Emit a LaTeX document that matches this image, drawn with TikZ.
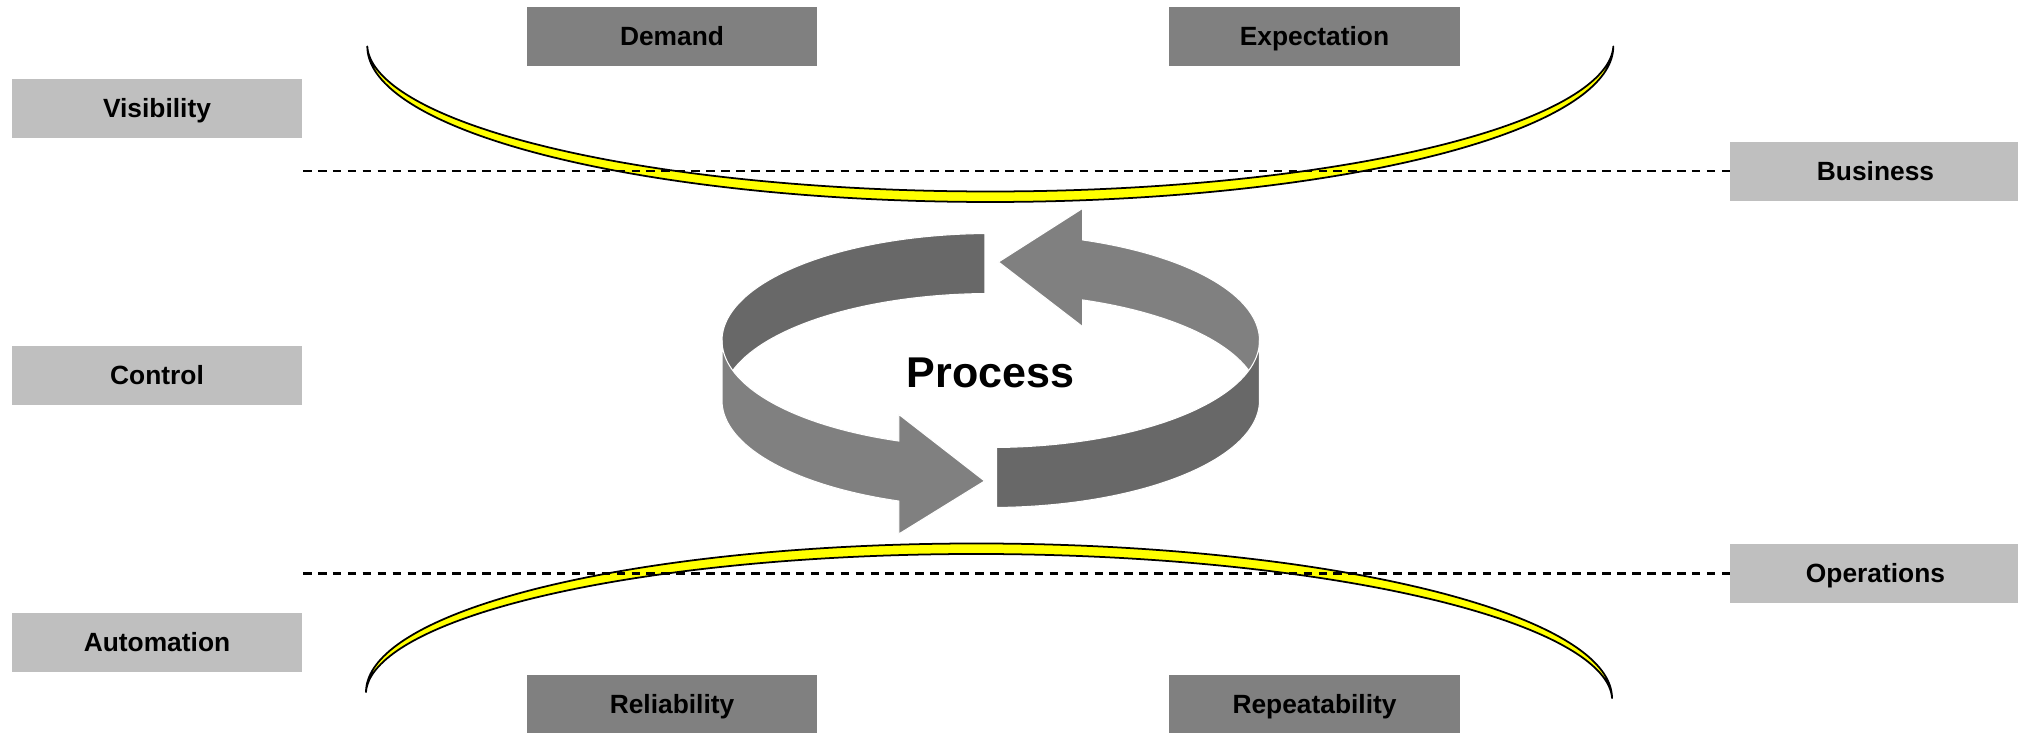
\documentclass[tikz,border=0pt]{standalone}
\usepackage{fontspec}
\setmainfont{Liberation Sans}
\definecolor{boxlight}{RGB}{191,191,191}
\definecolor{boxdark}{RGB}{128,128,128}
\definecolor{ringgray}{RGB}{104,104,104}
\definecolor{ringsilver}{RGB}{128,128,128}
\definecolor{bandyellow}{RGB}{255,255,0}
\begin{document}
\begin{tikzpicture}[x=0.02cm, y=-0.02cm, samples=160,
  labelbox/.style={rectangle, minimum width=5.82cm, minimum height=1.18cm,
    inner sep=0pt, font=\bfseries\fontsize{15}{18}\selectfont,
    text height=10.7pt, text depth=0pt},
  lightbox/.style={labelbox, fill=boxlight},
  darkbox/.style={labelbox, fill=boxdark},
  divider/.style={line width=1.25pt, dash pattern=on 4.9pt off 3.6pt},
  crescent/.style={fill=bandyellow, draw=black, line width=1pt, line join=round},
  ringdark/.style={fill=ringgray, draw=white, line width=0.6pt},
  ringlight/.style={fill=ringsilver, draw=white, line width=0.6pt},
]
\useasboundingbox (0,0) rectangle (2018,733);

% yellow crescents above and below the cycle; the band thins only near its tips
\path[crescent]
  plot[domain=180:0] ({990.3+623*cos(\x)},{46.5+155.5*sin(\x)})
  -- plot[domain=0:180] ({990.3+623*cos(\x)},{46.5+155.5*sin(\x)-10.5*sqrt(abs(sin(\x)))}) -- cycle;
\path[crescent]
  plot[domain=180:0] ({989+623*cos(\x)},{695+3*cos(\x)-151.5*sin(\x)})
  -- plot[domain=0:180] ({989+623*cos(\x)},{695+3*cos(\x)-151.5*sin(\x)+10.5*sqrt(abs(sin(\x)))}) -- cycle;

% side labels
\node[lightbox] (visibility) at (157,108.5) {Visibility};
\node[lightbox] (control)    at (157,375.5) {Control};
\node[lightbox] (automation) at (157,642.5) {Automation};
\node[lightbox] (business)   at (1875.5,171.2) {Business};
\node[lightbox] (operations) at (1875.5,573.5) {Operations};

% top and bottom labels
\node[darkbox] (demand)        at (672,36.5)   {Demand};
\node[darkbox] (expectation)   at (1314.5,36.5) {Expectation};
\node[darkbox] (reliability)   at (672,704)    {Reliability};
\node[darkbox] (repeatability) at (1314.5,704) {Repeatability};

% dashed dividers
\coordinate (upperstart) at (303,171.2);
\coordinate (lowerstart) at (303,573.5);
\draw[divider] (upperstart) -- (business.west);
\draw[divider] (lowerstart) -- (operations.west);

% cycle ring: cylinder band, back half first, front half on top
\def\ringcx{990.75}
\def\ringa{268.75}
\def\ringb{107}
\def\ringtop{340.5}
\def\ringbot{400.5}
% back left, dark
\path[ringdark]
  plot[domain=91.23:180] ({\ringcx+\ringa*cos(\x)},{\ringtop-\ringb*sin(\x)})
  -- plot[domain=180:91.23] ({\ringcx+\ringa*cos(\x)},{\ringbot-\ringb*sin(\x)})
  -- cycle;
% back right, arrow pointing left
\path[ringlight]
  plot[domain=70:0] ({\ringcx+\ringa*cos(\x)},{\ringtop-\ringb*sin(\x)})
  -- plot[domain=0:70] ({\ringcx+\ringa*cos(\x)},{\ringbot-\ringb*sin(\x)})
  -- (1082.7,326.7) -- (998.5,262) -- (1082.7,208.3) -- cycle;
% front left, arrow pointing right
\path[ringlight]
  plot[domain=180:250] ({\ringcx+\ringa*cos(\x)},{\ringtop-\ringb*sin(\x)})
  -- (898.8,414.4) -- (984.6,481) -- (898.8,534)
  -- plot[domain=250:180] ({\ringcx+\ringa*cos(\x)},{\ringbot-\ringb*sin(\x)})
  -- cycle;
% front right, dark
\path[ringdark]
  plot[domain=271.25:360] ({\ringcx+\ringa*cos(\x)},{\ringtop-\ringb*sin(\x)})
  -- plot[domain=360:271.25] ({\ringcx+\ringa*cos(\x)},{\ringbot-\ringb*sin(\x)})
  -- cycle;

\node[inner sep=0pt, font=\bfseries\fontsize{24.5}{29}\selectfont,
  text height=17.5pt, text depth=0pt] (process) at (990.5,371.7) {Process};
\end{tikzpicture}
\end{document}
